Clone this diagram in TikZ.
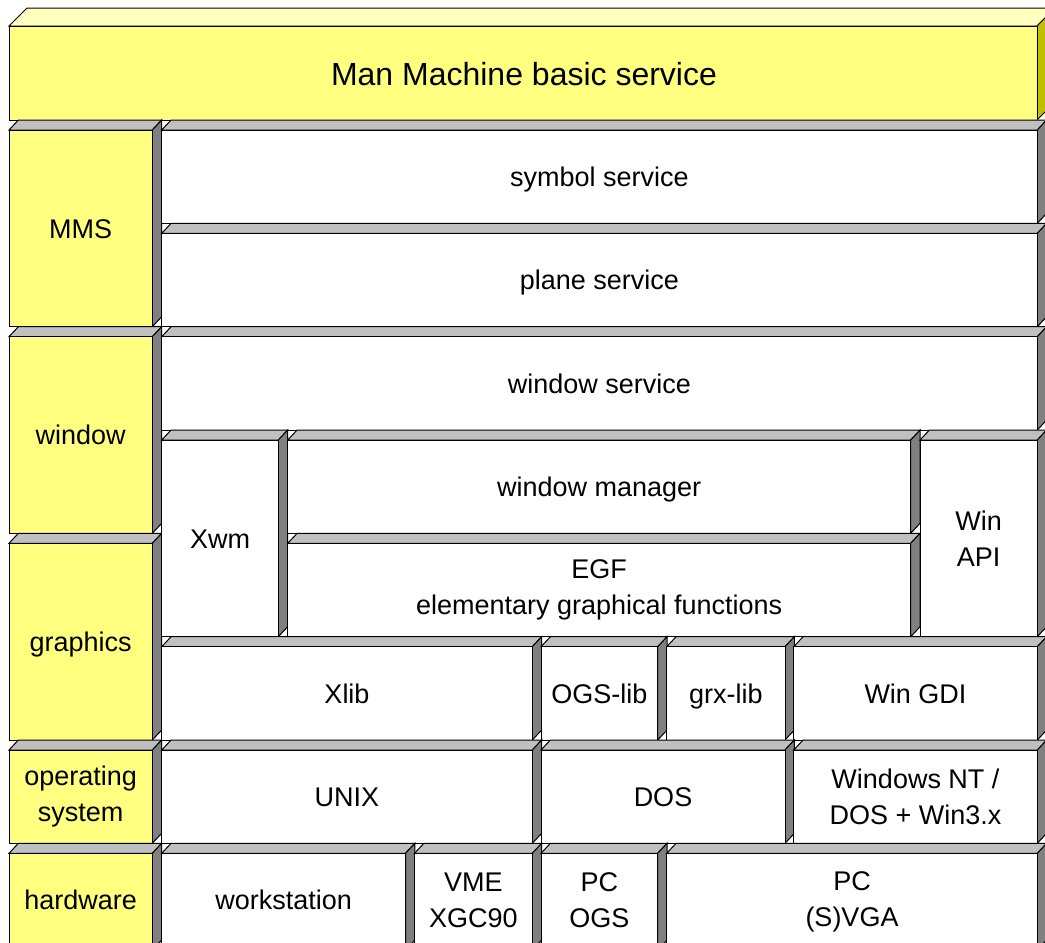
\documentclass[tikz,border=0pt]{standalone}
\usepackage{fontspec}
\setmainfont{Liberation Sans}
\definecolor{yel}{HTML}{FFFF80}
\definecolor{yeltop}{HTML}{FFFFC0}
\definecolor{yelside}{HTML}{C0C000}
\definecolor{ltgray}{HTML}{C0C0C0}
\definecolor{dkgray}{HTML}{808080}
\tikzset{
  face/.style={draw=black, line width=1pt, line join=miter},
  lbltwo/.style={inner sep=0pt, align=center, font=\fontsize{27}{36}\selectfont, text=black},
  lbl/.style={lbltwo, text height=19.5pt, text depth=0pt}
}
% #1 name, #2 x1, #3 y1, #4 x2, #5 y2, #6 front colour, #7 text, #8 label style
\newcommand\blk[8]{%
  \filldraw[face, fill=ltgray] (#2,#3) -- (#2+9.4,#3-10) -- (#4+9.4,#3-10) -- (#4,#3) -- cycle;
  \filldraw[face, fill=dkgray] (#4,#3) -- (#4+9.4,#3-10) -- (#4+9.4,#5-10) -- (#4,#5) -- cycle;
  \filldraw[face, fill=#6] (#2,#3) rectangle (#4,#5);
  \node[#8] (#1) at ({(#2+#4)/2},{(#3+#5)/2}) {#7};
}
\begin{document}
\begin{tikzpicture}[x=1pt,y=-1pt]
\useasboundingbox (0,0) rectangle (1045,943);
\clip (0,0) rectangle (1045,943);
\fill[white] (0,0) rectangle (1045,943);
% top box
\filldraw[face, fill=yeltop] (9,26) -- (27,8) -- (1055,8) -- (1037,26) -- cycle;
\filldraw[face, fill=yelside] (1037,26) -- (1055,8) -- (1055,102) -- (1037,120) -- cycle;
\filldraw[face, fill=yel] (9,26) rectangle (1037,120);
\node[lbl, font=\fontsize{32}{38}\selectfont, text height=23pt] (mmbs) at (524,74) {Man Machine basic service};
% left column
\blk{mms}{9}{130}{152.3}{326.7}{yel}{MMS}{lbl}
\blk{win}{9}{336.7}{152.3}{533.3}{yel}{window}{lbl}
\blk{gra}{9}{543.3}{152.3}{740}{yel}{graphics}{lbl}
\blk{os}{9}{750}{152.3}{843.3}{yel}{operating\\system}{lbltwo}
\blk{hw}{9}{853.3}{152.3}{950}{yel}{}{lbl}
\node[lbl] (hwt) at (80.6,900) {hardware};
% right part
\blk{sym}{161.7}{130}{1037.3}{223.3}{white}{symbol service}{lbl}
\blk{pla}{161.7}{233.3}{1037.3}{326.7}{white}{plane service}{lbl}
\blk{wsv}{161.7}{336.7}{1037.3}{430}{white}{window service}{lbl}
\blk{xwm}{161.7}{440}{278.3}{636.7}{white}{Xwm}{lbl}
\blk{wmg}{287.7}{440}{910.7}{533.3}{white}{window manager}{lbl}
\blk{egf}{287.7}{543.3}{910.7}{636.7}{white}{EGF\\elementary graphical functions}{lbltwo}
\blk{wap}{920}{440}{1037.3}{636.7}{white}{Win\\API}{lbltwo}
\blk{xlib}{161.7}{646.7}{532.3}{740}{white}{Xlib}{lbl}
\blk{ogsl}{541}{646.7}{657.7}{740}{white}{OGS-lib}{lbl}
\blk{grx}{666.7}{646.7}{785}{740}{white}{grx-lib}{lbl}
\blk{gdi}{793.7}{646.7}{1037.3}{740}{white}{Win GDI}{lbl}
\blk{unix}{161.7}{750}{532.3}{843.3}{white}{UNIX}{lbl}
\blk{dos}{541}{750}{785}{843.3}{white}{DOS}{lbl}
\blk{wnt}{793.7}{750}{1037.3}{843.3}{white}{Windows NT /\\DOS + Win3.x}{lbltwo}
\blk{ws}{161.7}{853.3}{405.5}{950}{white}{}{lbl}
\node[lbl] (wst) at (283.6,900) {workstation};
\blk{vme}{414.5}{853.3}{532.3}{950}{white}{}{lbl}
\node[lbltwo] (vmet) at (473.4,900) {VME\\XGC90};
\blk{pcogs}{541}{853.3}{657.7}{950}{white}{}{lbl}
\node[lbltwo] (pcogst) at (599.3,900) {PC\\OGS};
\blk{svga}{666.7}{853.3}{1037.3}{950}{white}{}{lbl}
\node[lbltwo] (svgat) at (852,902) {PC\\(S)VGA};
\end{tikzpicture}
\end{document}
